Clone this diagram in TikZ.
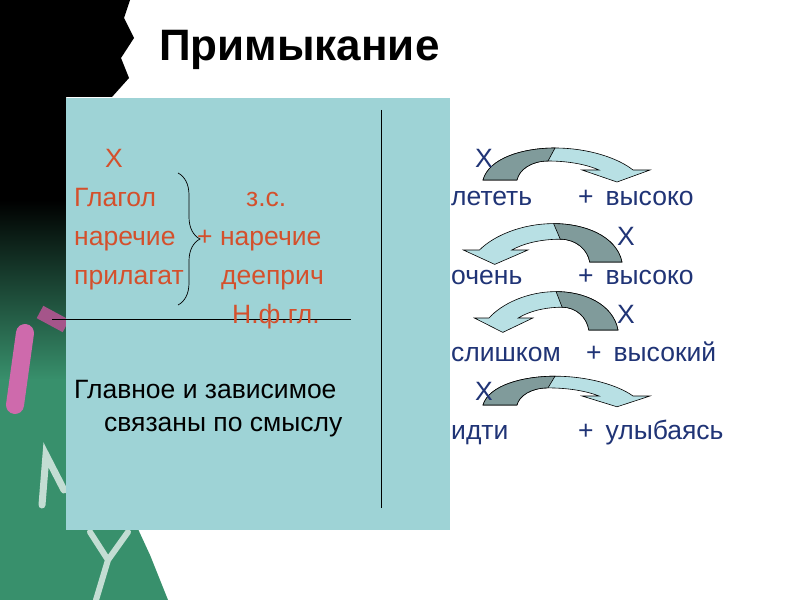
\documentclass[tikz,border=0pt]{standalone}
\usepackage{fontspec}
\setmainfont{Liberation Sans}
\usepackage{tikz}
\usetikzlibrary{shapes,                    % d'autres formes
           decorations.pathreplacing,      % pour les accolades
           positioning}
\definecolor{fond}{RGB}{158,211,214}
\definecolor{rouille}{RGB}{212,80,44}
\definecolor{marine}{RGB}{32,52,118}
\definecolor{fleche}{RGB}{184,224,228}
\definecolor{ombre}{RGB}{128,155,155}
\definecolor{craie}{RGB}{56,144,108}
\definecolor{rose}{RGB}{206,106,172}

\tikzset{mot/.style={inner sep = 0, anchor=base west, font=\fontsize{26.5bp}{30bp}\selectfont},
         motrouge/.style={mot, text=rouille},
         motbleu/.style={mot, text=marine},
         motnoir/.style={mot, text=black},
         trait/.style={line width=0.8bp}}

% flèche courbe : position de la base, échelles
\newcommand{\flechecourbe}[3]{%
\begin{scope}[shift={#1},xscale=#2,yscale=#3]
\filldraw[fill=fleche,line width=0.6bp] (0,0) .. controls (6,-22) and (40,-32) .. (72,-32)
     .. controls (105,-32) and (135,-22) .. (150,-10) -- (167,-10) -- (134,2) -- (99,-10) -- (116,-10)
     .. controls (100,-17) and (80,-19) .. (65,-19) .. controls (48,-19) and (36,-10) .. (34,0) -- cycle;
\filldraw[fill=ombre,line width=0.6bp] (0,0) .. controls (6,-22) and (40,-32) .. (72,-32)
     -- (65,-19) .. controls (48,-19) and (36,-10) .. (34,0) -- cycle;
\end{scope}}

\begin{document}
\begin{tikzpicture}[x=1bp,y=-1bp]
\useasboundingbox (0,0) rectangle (800,600);
\fill[white] (0,0) rectangle (800,600);
% tableau noir
\fill[black] (0,0) -- (130,0) -- (124,18) -- (134,38) -- (121,58) -- (129,78) -- (112,97) -- (66,97) -- (66,240) -- (0,240) -- cycle;
\shade[top color=black,bottom color=craie] (0,200) rectangle (66,380);
\fill[craie] (0,379) rectangle (66,600);
\fill[craie] (66,529) -- (138,529) -- (150,555) -- (168,600) -- (66,600) -- cycle;
\draw[white,opacity=0.7,line width=7bp,line cap=round] (42,505) -- (46,455) -- (64,490);
\draw[white,opacity=0.7,line width=6bp,line cap=round] (90,532) -- (108,560) -- (128,532) (108,560) -- (96,600);
\draw[rose,line width=18bp,line cap=round] (25,333) -- (15,405);
\draw[rose!80!black,line width=14bp] (40,312) -- (66,326);
% cadre
\fill[fond] (66,98) rectangle (450,530);
\draw[trait] (52,319) -- (351,319);
\draw[trait] (381,110) -- (381,508);
\coordinate (acc-h) at (178,173);
\coordinate (acc-b) at (178,305);
\draw[decorate,decoration={brace,amplitude=22bp},line width=0.7bp] (acc-h) -- (acc-b);
% titre
\node[inner sep = 0, anchor=base west, font=\fontsize{44bp}{50bp}\selectfont\bfseries] (titre) at (159,61) {Примыкание};
% colonne gauche
\node[motrouge] (gX) at (105,168) {X};
\node[motrouge] (glagol) at (74,207) {Глагол};
\node[motrouge] (zs) at (246,207) {з.с.};
\node[motrouge] (narech) at (74,245) {наречие};
\node[motrouge] (plusnar) at (197,245) {+ наречие};
\node[motrouge] (prilag) at (74,284) {прилагат};
\node[motrouge] (deepr) at (221,284) {дееприч};
\node[motrouge] (nfgl) at (232,323) {Н.ф.гл.};
\node[motnoir] (glav) at (74,398) {Главное и зависимое};
\node[motnoir] (svyaz) at (104,431) {связаны по смыслу};
% colonne droite
\flechecourbe{(483,180)}{1}{1}
\flechecourbe{(622,262)}{-0.95}{1.2}
\flechecourbe{(618,330)}{-0.86}{1.2}
\flechecourbe{(483,405)}{1}{0.9}
\node[motbleu] (dX1) at (475,168) {X};
\node[motbleu] (letet) at (451,206) {лететь};
\node[motbleu] (vys1) at (578,206) {+\hspace{0.45em}высоко};
\node[motbleu] (dX2) at (617,245) {X};
\node[motbleu] (ochen) at (451,284) {очень};
\node[motbleu] (vys2) at (578,284) {+\hspace{0.45em}высоко};
\node[motbleu] (dX3) at (617,323) {X};
\node[motbleu] (slishk) at (451,361) {слишком};
\node[motbleu] (vys3) at (586,361) {+\hspace{0.45em}высокий};
\node[motbleu] (dX4) at (475,400) {X};
\node[motbleu] (idti) at (451,439) {идти};
\node[motbleu] (ulyb) at (578,439) {+\hspace{0.45em}улыбаясь};
\end{tikzpicture}
\end{document}
